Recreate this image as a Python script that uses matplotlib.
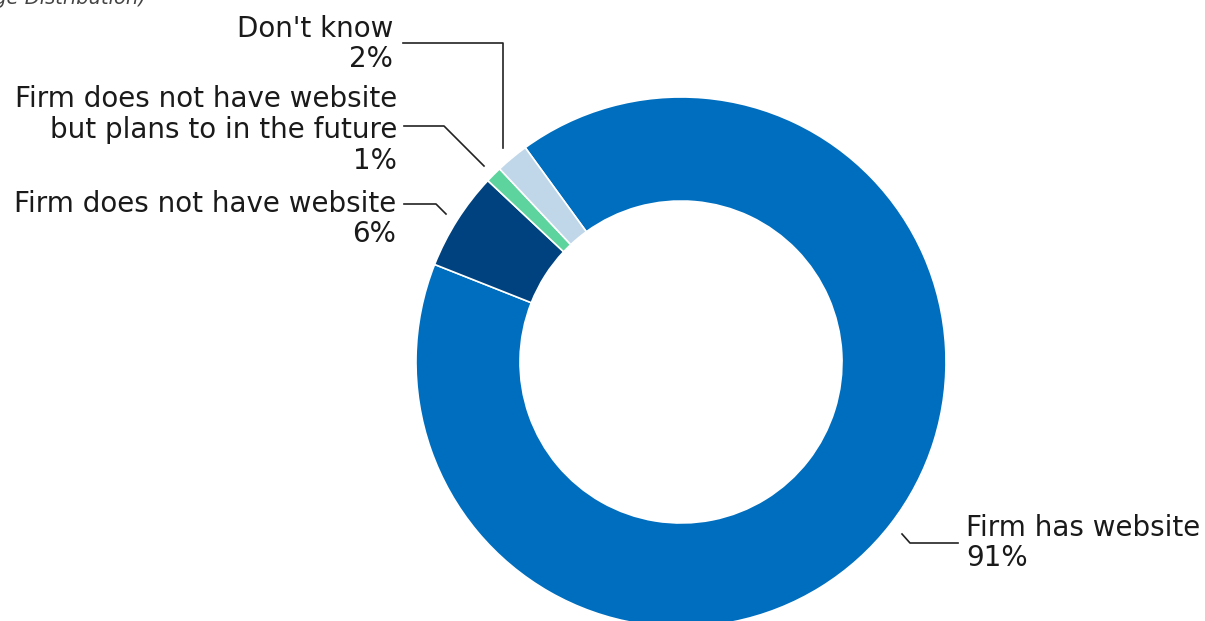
import matplotlib.pyplot as plt

# website status of firms (percentage distribution)
categories = ['Firm has website', 'Firm does not have website',
              'Firm does not have website\nbut plans to in the future', "Don't know"]
shares = [91, 6, 1, 2]
colors = ['#006EBE', '#00427F', '#5DD39E', '#C0D7EA']

W, H = 1205, 621

def Y(y):
    # image y (from top) -> axes y (from bottom)
    return H - y

fig = plt.figure(figsize=(W / 100, H / 100), dpi=100)
ax = fig.add_axes([0, 0, 1, 1])

ax.pie(shares, colors=colors, startangle=126, counterclock=False,
       center=(681, Y(362)), radius=265,
       wedgeprops=dict(width=104, edgecolor='white', linewidth=1.2))
ax.set_xlim(0, W)
ax.set_ylim(0, H)
ax.set_aspect('equal')
ax.axis('off')

fs = 20
txt = dict(fontsize=fs, color='#1a1a1a', linespacing=1.12)

# labels with leader lines
ax.text(393, Y(44), f"{categories[3]}\n{shares[3]}%", ha='right', va='center', **txt)
ax.plot([403, 503, 503], [Y(43), Y(43), Y(148)], color='#222222', lw=1.2)

ax.text(397, Y(130), f"{categories[2]}\n{shares[2]}%", ha='right', va='center', **txt)
ax.plot([404, 444, 484], [Y(126), Y(126), Y(166)], color='#222222', lw=1.2)

ax.text(396, Y(219), f"{categories[1]}\n{shares[1]}%", ha='right', va='center', **txt)
ax.plot([404, 436, 446], [Y(204), Y(204), Y(214)], color='#222222', lw=1.2)

ax.text(966, Y(543), f"{categories[0]}\n{shares[0]}%", ha='left', va='center', **txt)
ax.plot([902, 910, 958], [Y(534), Y(543), Y(543)], color='#222222', lw=1.2)

# subtitle, clipped by the top-left edge as in the source
fig.text(146 / W, 1 - 4 / H, '(Percentage Distribution)', ha='right', va='baseline',
         fontsize=14, style='italic', color='#444444')

fig.savefig('out.png', dpi=100)
